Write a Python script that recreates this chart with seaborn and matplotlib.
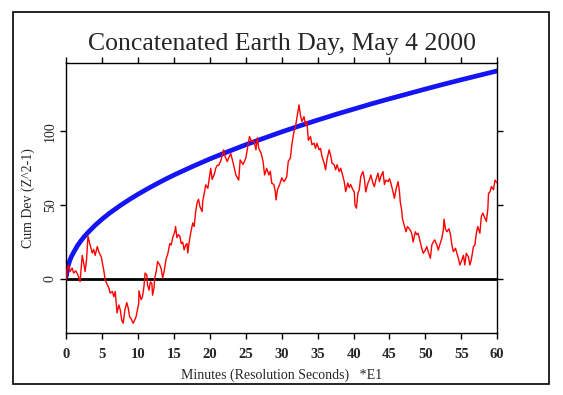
import numpy as np
import pandas as pd
import matplotlib
matplotlib.use('Agg')
import matplotlib.pyplot as plt
import seaborn as sns

# ── Data ──────────────────────────────────────────────────────────────────
cum_minutes = [
    0.0, 0.07, 0.3, 0.5, 0.8, 1.0, 1.3, 1.6, 1.9, 2.2, 2.4, 2.6, 2.8, 3.0, 3.3, 3.6,
    3.8, 4.0, 4.3, 4.5, 4.85, 5.2, 5.4, 5.9, 6.1, 6.4, 6.6, 6.8, 7.05, 7.3, 7.5, 7.7,
    7.9, 8.15, 8.4, 8.6, 8.8, 9.0, 9.3, 9.5, 9.7, 10.07, 10.1, 10.4, 10.6, 10.8, 10.95, 11.2,
    11.3, 11.5, 11.7, 11.9, 12.0, 12.2, 12.3, 12.5, 12.7, 13.0, 13.2, 13.4, 13.6, 13.9,
    14.1, 14.4, 14.6, 14.8, 15.1, 15.2, 15.4, 15.6, 15.8, 16.0, 16.2, 16.4, 16.6, 16.8,
    16.9, 17.1, 17.3, 17.5, 17.6, 17.8, 18.0, 18.2, 18.4, 18.6, 18.9, 19.0, 19.2, 19.4,
    19.7, 19.9, 20.1, 20.3, 20.6, 20.8, 21.0, 21.2, 21.5, 21.7, 21.9, 22.1, 22.4, 22.6,
    22.9, 23.1, 23.3, 23.6, 24.0, 24.2, 24.6, 25.0, 25.3, 25.5, 25.8, 26.1, 26.4, 26.6,
    26.8, 27.1, 27.4, 27.6, 27.9, 28.2, 28.4, 28.6, 28.9, 29.1, 29.2, 29.4, 29.7, 30.0,
    30.3, 30.5, 30.7, 30.9, 31.2, 31.4, 31.7, 31.9, 32.1, 32.4, 32.6, 32.8, 33.1, 33.3,
    33.5, 33.7, 34.0, 34.2, 34.5, 34.7, 34.9, 35.2, 35.4, 35.6, 35.9, 36.1, 36.3, 36.6,
    36.8, 37.0, 37.3, 37.5, 37.7, 38.0, 38.2, 38.4, 38.7, 38.9, 39.2, 39.4, 39.6, 39.9,
    40.1, 40.2, 40.4, 40.6, 40.8, 41.0, 41.3, 41.5, 41.7, 42.0, 42.2, 42.4, 42.7, 42.9,
    43.1, 43.4, 43.6, 43.8, 44.1, 44.3, 44.5, 44.8, 45.0, 45.2, 45.5, 45.7, 45.9, 46.2,
    46.4, 46.5, 46.7, 46.8, 47.1, 47.3, 47.5, 47.7, 47.9, 48.1, 48.3, 48.6, 48.8, 49.0,
    49.3, 49.5, 49.7, 50.0, 50.2, 50.4, 50.7, 50.9, 51.1, 51.3, 51.6, 51.8, 52.0, 52.3,
    52.5, 52.6, 52.8, 53.0, 53.3, 53.5, 53.7, 53.9, 54.2, 54.4, 54.6, 54.8, 55.1, 55.3,
    55.5, 55.7, 56.0, 56.2, 56.4, 56.7, 56.9, 57.1, 57.3, 57.6, 57.8, 58.0, 58.2, 58.5,
    58.7, 58.8, 59.0, 59.2, 59.5, 59.7, 60.0,
]
cum_dev = [
    0.0, 6, 9.5, 5, 7.4, 4, 5.5, 2.7, -1.8, 16, 11, 5, 13, 29, 23, 17.6,
    20, 16, 22, 18.5, 15, 6, -0.7, -6, -9.6, -8.5, -12, -8.5, -23, -17.6, -21, -27.8,
    -30, -21, -16, -19.5, -25.6, -26.8, -30, -28, -25.6, -16.5, -8, -14, -12, -5, 4, 2.7,
    -4, -7.6, -2, -3, -11, -6, 0.7, 5, 11.8, 9.5, 7, 0.7, 5, 14,
    16.5, 24, 23, 28, 32, 35.5, 28, 30, 29, 24, 25, 19.7, 23, 24,
    17.6, 25, 31, 35.5, 38, 35.5, 45.7, 51.5, 54, 49, 45.7, 53, 58, 63.8,
    61.5, 68.5, 75, 67.5, 71, 75, 77, 77, 80, 84, 87.5, 83, 79.6, 82,
    85, 81, 77, 70.5, 67, 80.7, 77.6, 82, 91, 96.5, 93, 94, 87.5, 95.7,
    88.5, 85.5, 79.6, 70.5, 75, 70.5, 73, 65, 64, 59, 53.6, 60.5, 64, 68.5,
    66, 67.3, 69.6, 79.6, 82, 91, 100, 103, 109, 118, 111, 106.7, 110, 104.6,
    106.7, 94, 96.5, 91, 92, 88.5, 92, 87.5, 88.5, 83, 78.5, 74, 81, 87.5,
    84, 78.5, 77.4, 74, 77.4, 72.8, 75, 71.7, 66, 59.2, 65, 62, 64, 60.5,
    59, 50, 48, 58, 60.5, 69.4, 72.8, 68, 59, 65, 67, 70.5, 65, 62.6,
    67, 71.7, 66, 69.4, 72.8, 64, 67, 66, 68, 65, 59, 54.7, 60.5, 66,
    59, 52.4, 46.8, 41, 35.5, 32, 35.5, 34.4, 33, 31, 25, 32, 30, 31,
    25, 20.8, 17.4, 19.6, 22, 18.5, 14, 23, 25, 26.5, 23, 19.6, 23, 27.6,
    33, 40.5, 34, 32, 34, 30, 23, 18.5, 20.8, 17.4, 14, 9.5, 13, 16,
    9.5, 17.4, 15, 9.5, 13, 22, 23, 31, 35.5, 31, 42.3, 44.6, 42.3, 39,
    47, 58, 59, 62.6, 60.5, 67, 65,
]

envelope_minutes = [0, 0.1, 0.2, 0.35, 0.5, 0.75, 1, 1.5, 2, 2.5, 3, 4, 5, 6, 7.5, 8.75,
                    10, 11.25, 12.5, 13.75, 15, 17.5, 20, 22.5, 25, 27.5, 30, 32.5, 35,
                    37.5, 40, 42.5, 45, 47.5, 50, 52.5, 55, 57.5, 60]
envelope_dev = [2, 5.5, 8, 10.8, 13, 15.8, 18, 22.3, 25.8, 28.8, 31.5, 36.4, 40.7, 44.6,
                49.8, 53.8, 57.5, 61, 64.3, 67.5, 70.5, 76.1, 81.4, 86.3, 91, 95.4, 99.7,
                103.8, 107.7, 111.5, 115.1, 118.7, 122.1, 125.4, 128.7, 131.9, 135,
                138, 141]

x_ticks = [0, 5, 10, 15, 20, 25, 30, 35, 40, 45, 50, 55, 60]
y_ticks = [0, 50, 100]

# ── Styling ──────────────────────────────────────────────────────────────
sns.set_style('white')
plt.rcParams['font.family'] = ['Liberation Serif', 'DejaVu Serif']

df_cum = pd.DataFrame({'minutes': cum_minutes, 'dev': cum_dev})
df_env = pd.DataFrame({'minutes': envelope_minutes, 'dev': envelope_dev})

fig = plt.figure(figsize=(5.63, 3.95), dpi=100)
ax = fig.add_axes([0.118, 0.157, 0.765, 0.684])

ax.axhline(0, color='black', lw=2, zorder=1)
sns.lineplot(data=df_env, x='minutes', y='dev', ax=ax, color='#1414f5',
             lw=3.4, sort=False, estimator=None, zorder=2)
sns.lineplot(data=df_cum, x='minutes', y='dev', ax=ax, color='#ff0000',
             lw=1.0, sort=False, estimator=None, zorder=3)

ax.set_xlim(0, 60)
ax.set_ylim(-36.6, 146.5)
ax.set_xticks(x_ticks)
ax.set_yticks(y_ticks)
ax.set_xticklabels([str(t) for t in x_ticks], fontsize=10.5, fontweight='bold')
ax.set_yticklabels([str(t) for t in y_ticks], fontsize=10, rotation=90, va='center')
ax.tick_params(axis='x', pad=7)
ax.tick_params(axis='y', pad=3)
ax.tick_params(axis='both', direction='out', length=4, width=1, color='black',
               top=True, right=True, bottom=True, left=True)
for s in ax.spines.values():
    s.set_visible(True)
    s.set_color('black')
    s.set_linewidth(1)

ax.set_xlabel('Minutes (Resolution Seconds)   *E1', fontsize=10, labelpad=5)
ax.set_ylabel('Cum Dev (Z^2-1)', fontsize=10, labelpad=6)
ax.set_title('Concatenated Earth Day, May 4 2000', fontsize=18.5, pad=9)

# outer frame around the whole figure
fig.patches.append(plt.Rectangle((0.023, 0.028), 0.952, 0.942, transform=fig.transFigure,
                                 fill=False, edgecolor='black', lw=1.2))

fig.savefig('out.png', dpi=100)
